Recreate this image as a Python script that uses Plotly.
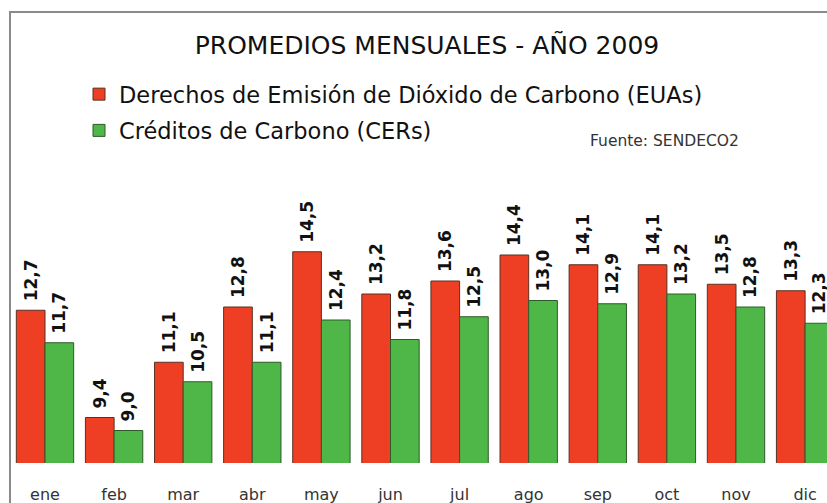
import plotly.graph_objects as go

months = ["ene", "feb", "mar", "abr", "may", "jun", "jul", "ago", "sep", "oct", "nov", "dic"]
eua = [12.7, 9.4, 11.1, 12.8, 14.5, 13.2, 13.6, 14.4, 14.1, 14.1, 13.5, 13.3]
cer = [11.7, 9.0, 10.5, 11.1, 12.4, 11.8, 12.5, 13.0, 12.9, 13.2, 12.8, 12.3]

W, H = 827, 503
L, R, T, B = 10, 0, 150, 40
pw, ph = W - L - R, H - T - B
STEP = 69.1      # px per category
YSCALE = 32.5    # px per unit
FIRST_CENTER = 45


def px(x):
    return (x - L) / pw


def py(y):
    return (H - B - y) / ph


RED = "#ee3f24"
GREEN = "#4fb747"
font_fam = "DejaVu Sans"

fig = go.Figure()
for vals, name, col, lc, grp in [
    (eua, "Derechos de Emisión de Dióxido de Carbono (EUAs)", RED, "#5a3020", "a"),
    (cer, "Créditos de Carbono (CERs)", GREEN, "#2f5a2a", "b"),
]:
    fig.add_trace(go.Bar(
        x=months, y=vals, name=name,
        marker=dict(color=col, line=dict(color=lc, width=1)),
        texttemplate="\u00a0%{y:.1f}", textposition="outside", textangle=-90,
        textfont=dict(family=font_fam, size=17, color="#111", weight="bold"),
        constraintext="none", cliponaxis=False, legendgroup=grp,
    ))

xmin = -(FIRST_CENTER - L) / STEP
fig.update_layout(
    width=W, height=H,
    margin=dict(l=L, r=R, t=T, b=B),
    paper_bgcolor="white", plot_bgcolor="white",
    separators=", ",
    barmode="group", bargap=0.17, bargroupgap=0,
    showlegend=True,
    legend=dict(
        x=px(79), y=py(73), xanchor="left", yanchor="top",
        font=dict(family=font_fam, size=22.5, color="#111"),
        traceorder="grouped", tracegroupgap=4, itemwidth=30,
        bgcolor="rgba(0,0,0,0)",
    ),
    title=dict(
        text="PROMEDIOS MENSUALES - AÑO 2009",
        xref="container", x=427 / W, xanchor="center",
        yref="container", y=1 - 45 / H, yanchor="middle",
        font=dict(family=font_fam, size=25, color="#111"),
    ),
    annotations=[dict(
        text="Fuente: SENDECO2", xref="paper", yref="paper",
        x=px(664), y=py(141), xanchor="center", yanchor="middle",
        showarrow=False,
        font=dict(family=font_fam, size=15.5, color="#333"),
    )],
    shapes=[dict(
        type="rect", xref="paper", yref="paper",
        x0=px(10), x1=px(900), y0=py(560), y1=py(12),
        line=dict(color="#8a8a8a", width=2), fillcolor="rgba(0,0,0,0)",
        layer="below",
    )],
)
fig.update_xaxes(
    range=[xmin, xmin + pw / STEP], showgrid=False, showline=False, zeroline=False,
    ticks="", ticklabelstandoff=20,
    tickfont=dict(family=font_fam, size=16, color="#333"),
)
fig.update_yaxes(
    range=[8, 8 + ph / YSCALE], visible=False, showgrid=False,
)

fig.write_html(
    "out.html",
    config={"displayModeBar": False},
    post_script="document.body.style.margin='0';document.body.style.overflow='hidden';",
)
